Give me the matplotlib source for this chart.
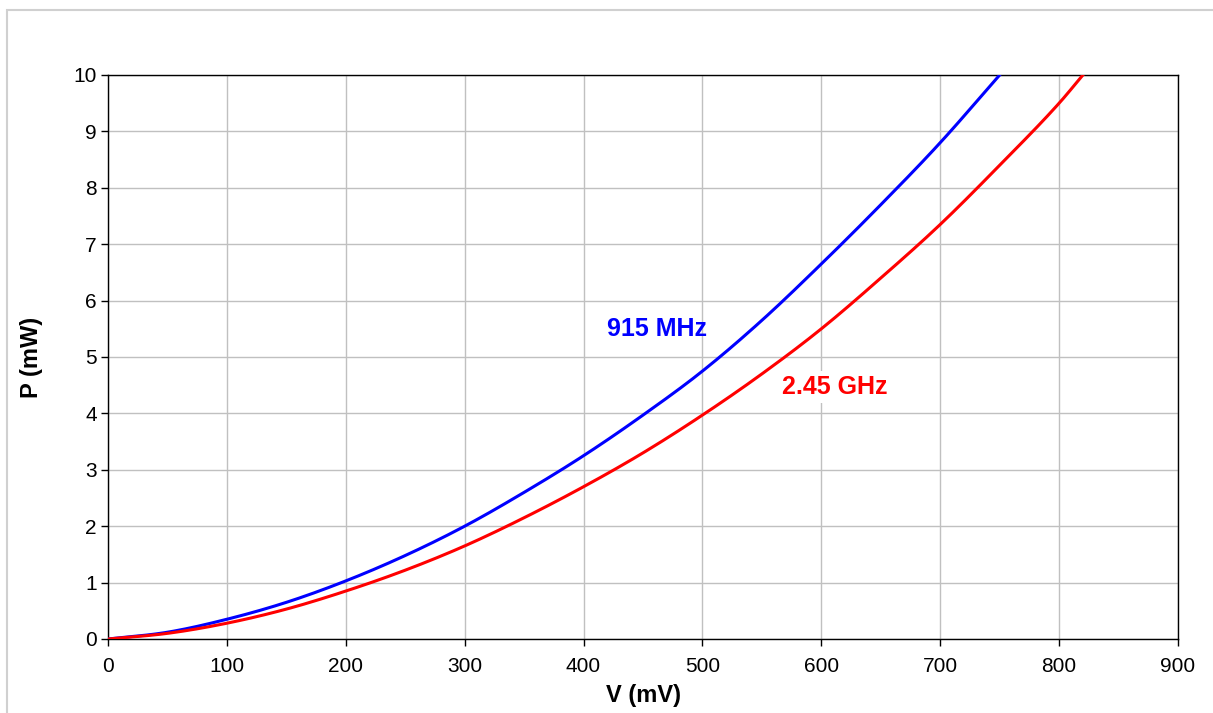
import matplotlib
matplotlib.use("Agg")
import matplotlib.pyplot as plt
import matplotlib.patches as patches
import numpy as np

# values (V in mV, P in mW)
v_915 = [0, 50, 100, 150, 200, 250, 300, 350, 400, 450, 500, 550, 600, 650, 700, 750]
p_915 = [0, 0.12, 0.35, 0.65, 1.03, 1.48, 2.0, 2.6, 3.25, 3.97, 4.75, 5.65, 6.65, 7.7, 8.8, 10.0]

v_245 = [0, 50, 100, 150, 200, 250, 300, 350, 400, 450, 500, 550, 600, 650, 700, 750, 800, 820]
p_245 = [0, 0.1, 0.28, 0.53, 0.85, 1.22, 1.65, 2.15, 2.7, 3.3, 3.97, 4.7, 5.5, 6.4, 7.35, 8.4, 9.5, 10.0]

x_ticks = [0, 100, 200, 300, 400, 500, 600, 700, 800, 900]
y_ticks = [0, 1, 2, 3, 4, 5, 6, 7, 8, 9, 10]

plt.rcParams['font.family'] = ['Liberation Sans', 'DejaVu Sans']

fig = plt.figure(figsize=(12.13, 7.13), dpi=100)
ax = fig.add_axes([108/1213, 1 - 639/713, (1178-108)/1213, (639-75)/713])

# outer chart frame
fig.patches.append(patches.Rectangle((7/1213, -0.1), 1.2, 1.1 - 10/713,
                                     transform=fig.transFigure, fill=False,
                                     edgecolor='#d0d0d0', linewidth=1.5))

def smooth(x, y):
    xs = np.linspace(x[0], x[-1], 300)
    # monotone piecewise cubic through the read points
    x = np.asarray(x, float); y = np.asarray(y, float)
    h = np.diff(x); d = np.diff(y) / h
    m = np.zeros_like(y)
    m[1:-1] = (d[:-1] + d[1:]) / 2
    m[0] = d[0]; m[-1] = d[-1]
    idx = np.clip(np.searchsorted(x, xs) - 1, 0, len(h) - 1)
    t = (xs - x[idx]) / h[idx]
    h00 = 2*t**3 - 3*t**2 + 1; h10 = t**3 - 2*t**2 + t
    h01 = -2*t**3 + 3*t**2; h11 = t**3 - t**2
    ys = h00*y[idx] + h10*h[idx]*m[idx] + h01*y[idx+1] + h11*h[idx]*m[idx+1]
    return xs, ys

xb, yb = smooth(v_915, p_915)
xr, yr = smooth(v_245, p_245)
ax.plot(xb, yb, color='#0000ff', linewidth=2.2, zorder=3)
ax.plot(xr, yr, color='#ff0000', linewidth=2.2, zorder=3)

ax.set_xlim(0, 900)
ax.set_ylim(0, 10)
ax.set_xticks(x_ticks)
ax.set_yticks(y_ticks)
ax.grid(True, color='#c0c0c0', linewidth=1)
ax.set_axisbelow(True)
for s in ax.spines.values():
    s.set_color('black')
    s.set_linewidth(1)
ax.tick_params(direction='out', length=5, width=1, labelsize=15)
ax.tick_params(axis='x', pad=8)
ax.tick_params(axis='y', pad=3)

ax.set_xlabel('V (mV)', fontsize=17, fontweight='bold', labelpad=6)
ax.set_ylabel('P (mW)', fontsize=17, fontweight='bold', labelpad=22)

ax.text(462, 5.5, '915 MHz', color='#0000ff', fontsize=18, fontweight='bold',
        ha='center', va='center', zorder=4)
ax.text(611, 4.47, '2.45 GHz', color='#ff0000', fontsize=18, fontweight='bold',
        ha='center', va='center', zorder=4,
        bbox=dict(facecolor='white', edgecolor='none', pad=3))

fig.savefig('out.png', dpi=100)
